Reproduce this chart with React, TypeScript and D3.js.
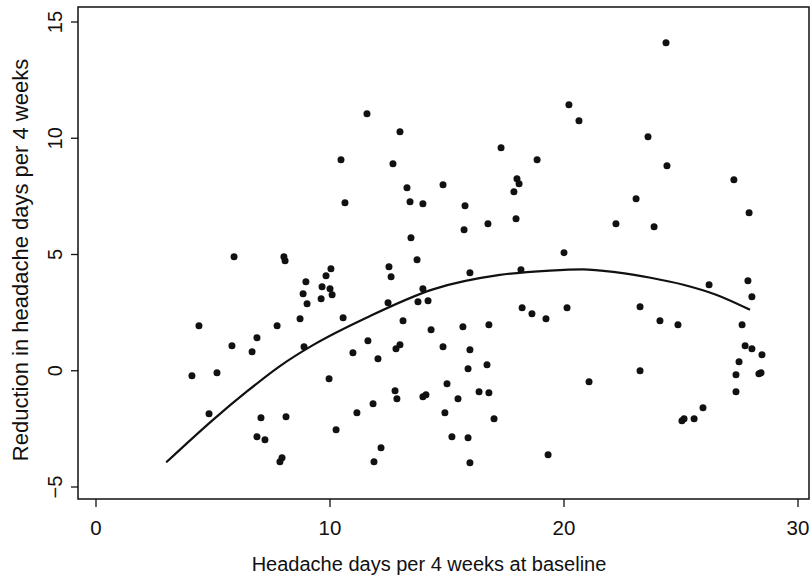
import React from "react";
import * as d3 from "d3";

// Baseline headache days (x) for each patient
const baselineDays: number[] = [
  4.1, 4.4, 4.83, 5.17, 5.81, 5.9, 6.67, 6.88, 7.05, 6.88, 7.22, 7.86, 7.95, 8.12, 8.08, 8.03,
  7.74, 8.72, 8.89, 8.97, 8.85, 9.02, 9.66, 9.62, 9.83, 10.04, 10.0, 10.09, 9.96, 10.56, 10.26,
  10.47, 10.64, 11.58, 10.98, 11.15, 11.62, 11.84, 12.05, 12.18, 11.88, 12.48, 12.52, 12.61,
  12.69, 12.99, 12.78, 12.86, 12.82, 12.99, 13.12, 13.29, 13.42, 13.97, 13.46, 13.72, 13.97,
  13.76, 14.19, 13.97, 14.1, 14.32, 14.83, 15.0, 14.91, 15.21, 15.47, 14.83, 15.68, 15.77,
  15.73, 15.9, 15.98, 15.98, 15.9, 15.98, 16.37, 16.79, 16.71, 16.79, 17.01, 16.75, 17.31,
  17.86, 17.99, 18.08, 17.95, 18.16, 18.21, 18.63, 18.85, 19.23, 19.32, 20.0, 20.13, 20.21,
  20.64, 21.07, 22.22, 23.08, 23.25, 23.25, 23.59, 23.85, 24.1, 24.36, 24.4, 24.87, 25.13,
  25.04, 25.56, 25.94, 26.2, 27.26, 27.35, 27.35, 27.48, 27.61, 27.74, 27.86, 27.91, 28.03,
  28.03, 28.46, 28.42, 28.33,
];

// Reduction in headache days (y) for each patient
const reductionDays: number[] = [
  -0.22, 1.94, -1.85, -0.09, 1.08, 4.9, 0.82, 1.42, -2.02, -2.84, -2.97, -3.91, -3.74, -1.98,
  4.73, 4.9, 1.94, 2.24, 1.03, 3.83, 3.31, 2.88, 3.61, 3.1, 4.09, 4.39, 3.53, 3.27, -0.34, 2.28,
  -2.54, 9.08, 7.23, 11.05, 0.77, -1.81, 1.29, -1.42, 0.52, -3.31, -3.91, 2.92, 4.47, 4.04, 8.9,
  10.28, -0.86, -1.2, 0.95, 1.12, 2.15, 7.87, 7.27, 7.18, 5.72, 4.77, 3.53, 2.97, 3.01, -1.12,
  -1.03, 1.76, 8.0, -0.56, -1.81, -2.84, -1.2, 1.03, 1.89, 7.1, 6.06, -2.88, -3.96, 0.9, 0.09,
  4.22, -0.9, -0.95, 0.26, 1.98, -2.06, 6.32, 9.59, 7.7, 8.26, 8.04, 6.54, 4.34, 2.71, 2.45,
  9.08, 2.24, -3.61, 5.08, 2.71, 11.44, 10.75, -0.47, 6.32, 7.4, 2.75, 0.0, 10.06, 6.19, 2.15,
  14.11, 8.82, 1.98, -2.06, -2.15, -2.06, -1.59, 3.7, 8.22, -0.9, -0.17, 0.39, 1.98, 1.08, 3.87,
  6.8, 3.18, 0.95, 0.69, -0.09, -0.13,
];

// Fitted curve
const curveX: number[] = [3, 5, 6.45, 7.86, 9.27, 11.58, 14.4, 17.26, 19.4, 20.8, 22.26, 23.7, 25.1, 26.5, 27.95];
const curveY: number[] = [-3.94, -2.11, -0.89, 0.2, 1.1, 2.29, 3.5, 4.12, 4.31, 4.36, 4.23, 4.0, 3.7, 3.27, 2.62];

const xTicks: number[] = [0, 10, 20, 30];
const yTicks: number[] = [-5, 0, 5, 10, 15];

const W = 812;
const H = 579;
const FONT = "'Liberation Sans', Arial, Helvetica, sans-serif";

export default function App() {
  const x = d3.scaleLinear().domain([0, 30]).range([96, 798]);
  const y = d3.scaleLinear().domain([-5, 15]).range([487, 22]);
  const box = { left: 78, right: 809, top: 7, bottom: 499 };

  const line = d3
    .line<[number, number]>()
    .x((d) => x(d[0]))
    .y((d) => y(d[1]))
    .curve(d3.curveMonotoneX);
  const curvePts: [number, number][] = curveX.map((v, i) => [v, curveY[i]]);

  return (
    <svg
      width={W}
      height={H}
      style={{ position: "absolute", left: 0, top: 0, background: "#fff" }}
      fontFamily={FONT}
    >
      <rect x={0} y={0} width={W} height={H} fill="#fff" />
      <rect
        x={box.left}
        y={box.top}
        width={box.right - box.left}
        height={box.bottom - box.top}
        fill="none"
        stroke="#111"
        strokeWidth={1.5}
      />
      {xTicks.map((t) => (
        <g key={"xt" + t}>
          <line x1={x(t)} x2={x(t)} y1={box.bottom} y2={box.bottom + 8} stroke="#111" strokeWidth={1.3} />
          <text x={x(t)} y={535} textAnchor="middle" fontSize={20.5} fill="#111">
            {t}
          </text>
        </g>
      ))}
      {yTicks.map((t) => (
        <g key={"yt" + t}>
          <line x1={box.left - 7} x2={box.left} y1={y(t)} y2={y(t)} stroke="#111" strokeWidth={1.3} />
          <text
            transform={`translate(62,${y(t)}) rotate(-90)`}
            textAnchor="middle"
            fontSize={20}
            fill="#111"
          >
            {t < 0 ? "\u2212" + Math.abs(t) : t}
          </text>
        </g>
      ))}
      <text x={429} y={571} textAnchor="middle" fontSize={20} fill="#111">
        Headache days per 4 weeks at baseline
      </text>
      <text
        transform={`translate(28,260) rotate(-90)`}
        textAnchor="middle"
        fontSize={22}
        fill="#111"
      >
        Reduction in headache days per 4 weeks
      </text>
      <path d={line(curvePts) || ""} fill="none" stroke="#111" strokeWidth={2.2} />
      {baselineDays.map((bx, i) => (
        <circle key={"p" + i} cx={x(bx)} cy={y(reductionDays[i])} r={3.5} fill="#111" />
      ))}
    </svg>
  );
}
